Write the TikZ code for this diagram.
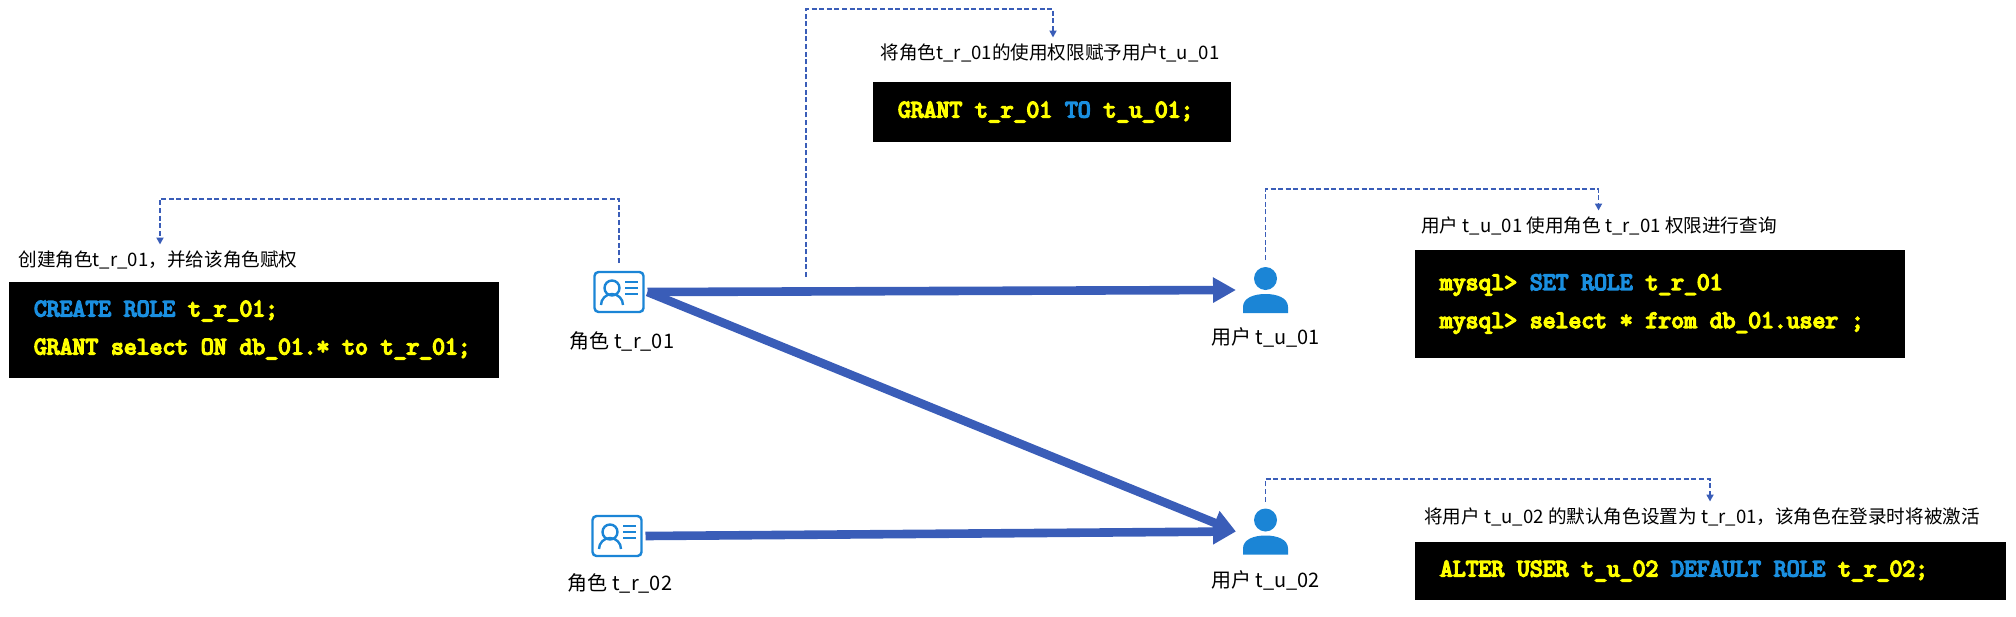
\documentclass[tikz,border=0pt]{standalone}
\usepackage{fontspec}
\setmainfont{Noto Sans CJK SC}
\newfontfamily\codefont[FakeBold=6]{Latin Modern Mono}
\usetikzlibrary{arrows.meta}
\definecolor{iconblue}{HTML}{1B85D6}
\definecolor{keyblue}{HTML}{1A8FE0}
\definecolor{codeyellow}{HTML}{FFFF00}
\definecolor{linkblue}{HTML}{3A5DB8}
\newcommand{\kw}[1]{\textcolor{keyblue}{#1}}
\tikzset{
	roleicon/.style={draw=iconblue,line width=1.2pt,rounded corners=2pt,inner sep=0pt,outer sep=2pt,minimum width=24.5pt,minimum height=20pt,
		path picture={
			\begin{scope}[shift={(path picture bounding box.center)},draw=iconblue,line width=1.2pt,rounded corners=0pt]
				\draw (-7,-4) circle[radius=7.5];
				\draw (-18,13) arc[start angle=180,end angle=360,radius=11];
				\draw (6,-10) -- (19,-10) (6,-4) -- (19,-4) (6,2) -- (19,2);
			\end{scope}
		}},
	usericon/.style={inner sep=0pt,outer sep=3.5pt,minimum width=22.5pt,minimum height=23pt,
		path picture={
			\begin{scope}[shift={(path picture bounding box.center)}]
				\fill[iconblue] (0,-11.5) circle[radius=11.5];
				\fill[iconblue] (-22.5,23) -- (-22.5,17) .. controls (-22.5,8) and (-12,4) .. (0,4) .. controls (12,4) and (22.5,8) .. (22.5,17) -- (22.5,23) -- cycle;
			\end{scope}
		}},
	namelabel/.style={font=\fontsize{10}{12}\selectfont,inner sep=0pt},
	caption/.style={font=\fontsize{9.3}{12}\selectfont,inner sep=0pt,outer sep=3pt,text height=7.8pt,text depth=1.7pt},
	codebox/.style 2 args={fill=black,text=codeyellow,inner xsep=12.5pt,inner ysep=0pt,align=flush left,text width=#1,minimum height=#2,
		font=\codefont\fontsize{12.47}{19}\selectfont},
	biglink/.style={draw=linkblue,line width=4.3pt,-{Triangle[length=11.5pt,width=12pt]}},
	notelink/.style={draw=linkblue,line width=.9pt,dash pattern=on 2.5pt off 1.3pt,-{Triangle[length=3.5pt,width=3.5pt]}}
}
\begin{document}
\begin{tikzpicture}[x=.5pt,y=-.5pt]
	\useasboundingbox (0,0) rectangle (2016,616);
	\node[roleicon] (role1) at (619,292) {};
	\node[roleicon] (role2) at (617,536) {};
	\node[usericon] (user1) at (1265.5,290) {};
	\node[usericon] (user2) at (1265.5,531.5) {};
	\node[namelabel] (role1name) at (622,341) {角色 t\_r\_01};
	\node[namelabel] (role2name) at (620,583) {角色 t\_r\_02};
	\node[namelabel] (user1name) at (1265.5,337) {用户 t\_u\_01};
	\node[namelabel] (user2name) at (1265.5,580) {用户 t\_u\_02};
	\node[caption] (capA) at (158,260) {创建角色t\_r\_01，并给该角色赋权};
	\node[caption] (capB) at (1050,53) {将角色t\_r\_01的使用权限赋予用户t\_u\_01};
	\node[caption] (capC) at (1599,226) {用户 t\_u\_01 使用角色 t\_r\_01 权限进行查询};
	\node[caption] (capD) at (1702,517) {将用户 t\_u\_02 的默认角色设置为 t\_r\_01，该角色在登录时将被激活};
	\node[codebox={220pt}{48pt}] (codeA) at (254,330) {\kw{CREATE ROLE} t\_r\_01;\\GRANT select ON db\_01.* to t\_r\_01;};
	\node[codebox={154pt}{30pt}] (codeB) at (1052,112) {GRANT t\_r\_01 \kw{TO} t\_u\_01;};
	\node[codebox={220pt}{54pt}] (codeC) at (1660,304) {mysql> \kw{SET ROLE} t\_r\_01\\mysql> select * from db\_01.user ;};
	\node[codebox={270.5pt}{29pt}] (codeD) at (1710.5,571) {ALTER USER t\_u\_02 \kw{DEFAULT ROLE} t\_r\_02;};
	\coordinate (grantfoot) at (806,277);
	\coordinate (turnA) at (160,199);
	\coordinate (turnB) at (1053,9);
	\coordinate (turnC) at (1598.5,189);
	\coordinate (turnD) at (1710,479);
	\draw[biglink] (role1.east) -- (user1.west);
	\draw[biglink] (role1.east) -- (user2.west);
	\draw[biglink] (role2.east) -- (user2.west);
	\draw[notelink,shorten <=2.5pt] (role1.north) |- (turnA) -- (turnA |- capA.north);
	\draw[notelink] (grantfoot) |- (turnB) -- (turnB |- capB.north);
	\draw[notelink] (user1.north) |- (turnC) -- (turnC |- capC.north);
	\draw[notelink] (user2.north) |- (turnD) -- (turnD |- capD.north);
\end{tikzpicture}
\end{document}
